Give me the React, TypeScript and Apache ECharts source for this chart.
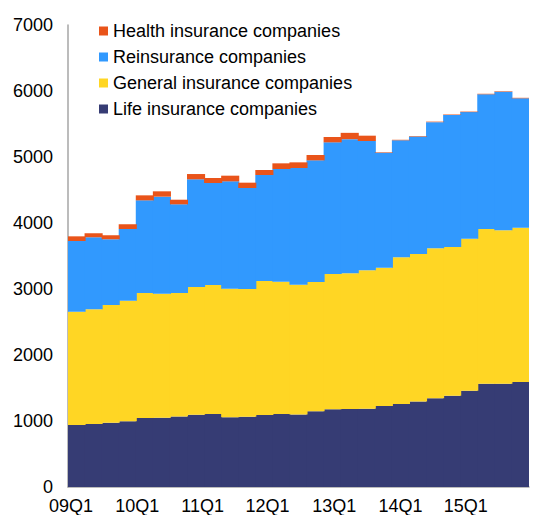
import React, { useEffect, useRef } from "react";
import * as echarts from "echarts";

const years = ["09", "10", "11", "12", "13", "14", "15"];
const categories: string[] = [];
years.forEach((y) => {
  for (let q = 1; q <= 4; q++) {
    if (y === "15" && q > 3) break;
    categories.push(`${y}Q${q}`);
  }
});

const lifeInsurance = [939, 955, 974, 995, 1045, 1050, 1070, 1096, 1106, 1056, 1066, 1091, 1106, 1100, 1146, 1177, 1182, 1185, 1227, 1258, 1296, 1346, 1384, 1460, 1563, 1563, 1591];
const generalInsurance = [1717, 1737, 1784, 1828, 1894, 1879, 1869, 1934, 1955, 1949, 1934, 2030, 2005, 1966, 1960, 2050, 2055, 2098, 2096, 2222, 2234, 2270, 2252, 2302, 2346, 2326, 2338];
const reinsurance = [1071, 1091, 995, 1086, 1404, 1470, 1344, 1632, 1545, 1626, 1530, 1606, 1707, 1767, 1843, 1995, 2033, 1959, 1743, 1773, 1780, 1912, 2000, 1918, 2041, 2099, 1960];
const healthInsurance = [71, 60, 60, 71, 76, 81, 70, 80, 76, 86, 81, 76, 86, 86, 81, 81, 96, 81, 8, 8, 8, 8, 8, 8, 8, 8, 8];

const yTicks = { min: 0, max: 7000, interval: 1000 };

// per-label leftward shift (as right padding) to mimic the reference label placement
const labelShift = [11, 15, 21, 28, 31, 35, 41];

const COLORS = {
  health: "#E9541A",
  re: "#3199FE",
  general: "#FFD624",
  life: "#363C74",
};

const FONT = "Arial, 'Liberation Sans', sans-serif";

export default function App() {
  const ref = useRef<HTMLDivElement>(null);
  useEffect(() => {
    if (!ref.current) return;
    const chart = echarts.init(ref.current, undefined, { renderer: "svg" });
    const rich: Record<string, any> = {};
    labelShift.forEach((s, i) => {
      rich["l" + i] = { fontSize: 18, color: "#000", fontFamily: FONT, padding: [0, s, 0, 0] };
    });
    const mk = (name: string, data: number[], color: string) => ({
      name,
      type: "bar",
      stack: "total",
      data,
      barWidth: "106%",
      itemStyle: { color },
      emphasis: { disabled: true },
    });
    chart.setOption({
      animation: false,
      textStyle: { fontFamily: FONT },
      grid: { left: 68, right: 11, top: 25, bottom: 28, containLabel: false },
      legend: {
        orient: "vertical",
        left: 94,
        top: 17,
        itemWidth: 9,
        itemHeight: 9,
        itemGap: 8,
        icon: "rect",
        textStyle: { fontSize: 18, color: "#000", fontFamily: FONT },
        data: [
          "Health insurance companies",
          "Reinsurance companies",
          "General insurance companies",
          "Life insurance companies",
        ],
      },
      xAxis: {
        type: "category",
        data: categories,
        boundaryGap: true,
        axisLine: { lineStyle: { color: "#A6A6A6", width: 1.5 } },
        axisTick: { show: false },
        axisLabel: {
          interval: 3,
          margin: 10,
          color: "#000",
          fontSize: 18,
          fontFamily: FONT,
          formatter: (v: string, idx: number) => `{l${Math.floor(idx / 4)}|${v}}`,
          rich,
        },
        splitLine: { show: false },
      },
      yAxis: {
        type: "value",
        min: yTicks.min,
        max: yTicks.max,
        interval: yTicks.interval,
        axisLine: { show: true, lineStyle: { color: "#A6A6A6", width: 1.5 } },
        axisTick: { show: false },
        splitLine: { show: false },
        axisLabel: {
          color: "#000",
          fontSize: 18,
          fontFamily: FONT,
          margin: 15,
          formatter: (v: number) => String(v),
        },
      },
      series: [
        mk("Life insurance companies", lifeInsurance, COLORS.life),
        mk("General insurance companies", generalInsurance, COLORS.general),
        mk("Reinsurance companies", reinsurance, COLORS.re),
        mk("Health insurance companies", healthInsurance, COLORS.health),
      ],
    });
    return () => chart.dispose();
  }, []);
  return <div ref={ref} style={{ width: 540, height: 515, position: "absolute", left: 0, top: 0 }} />;
}
